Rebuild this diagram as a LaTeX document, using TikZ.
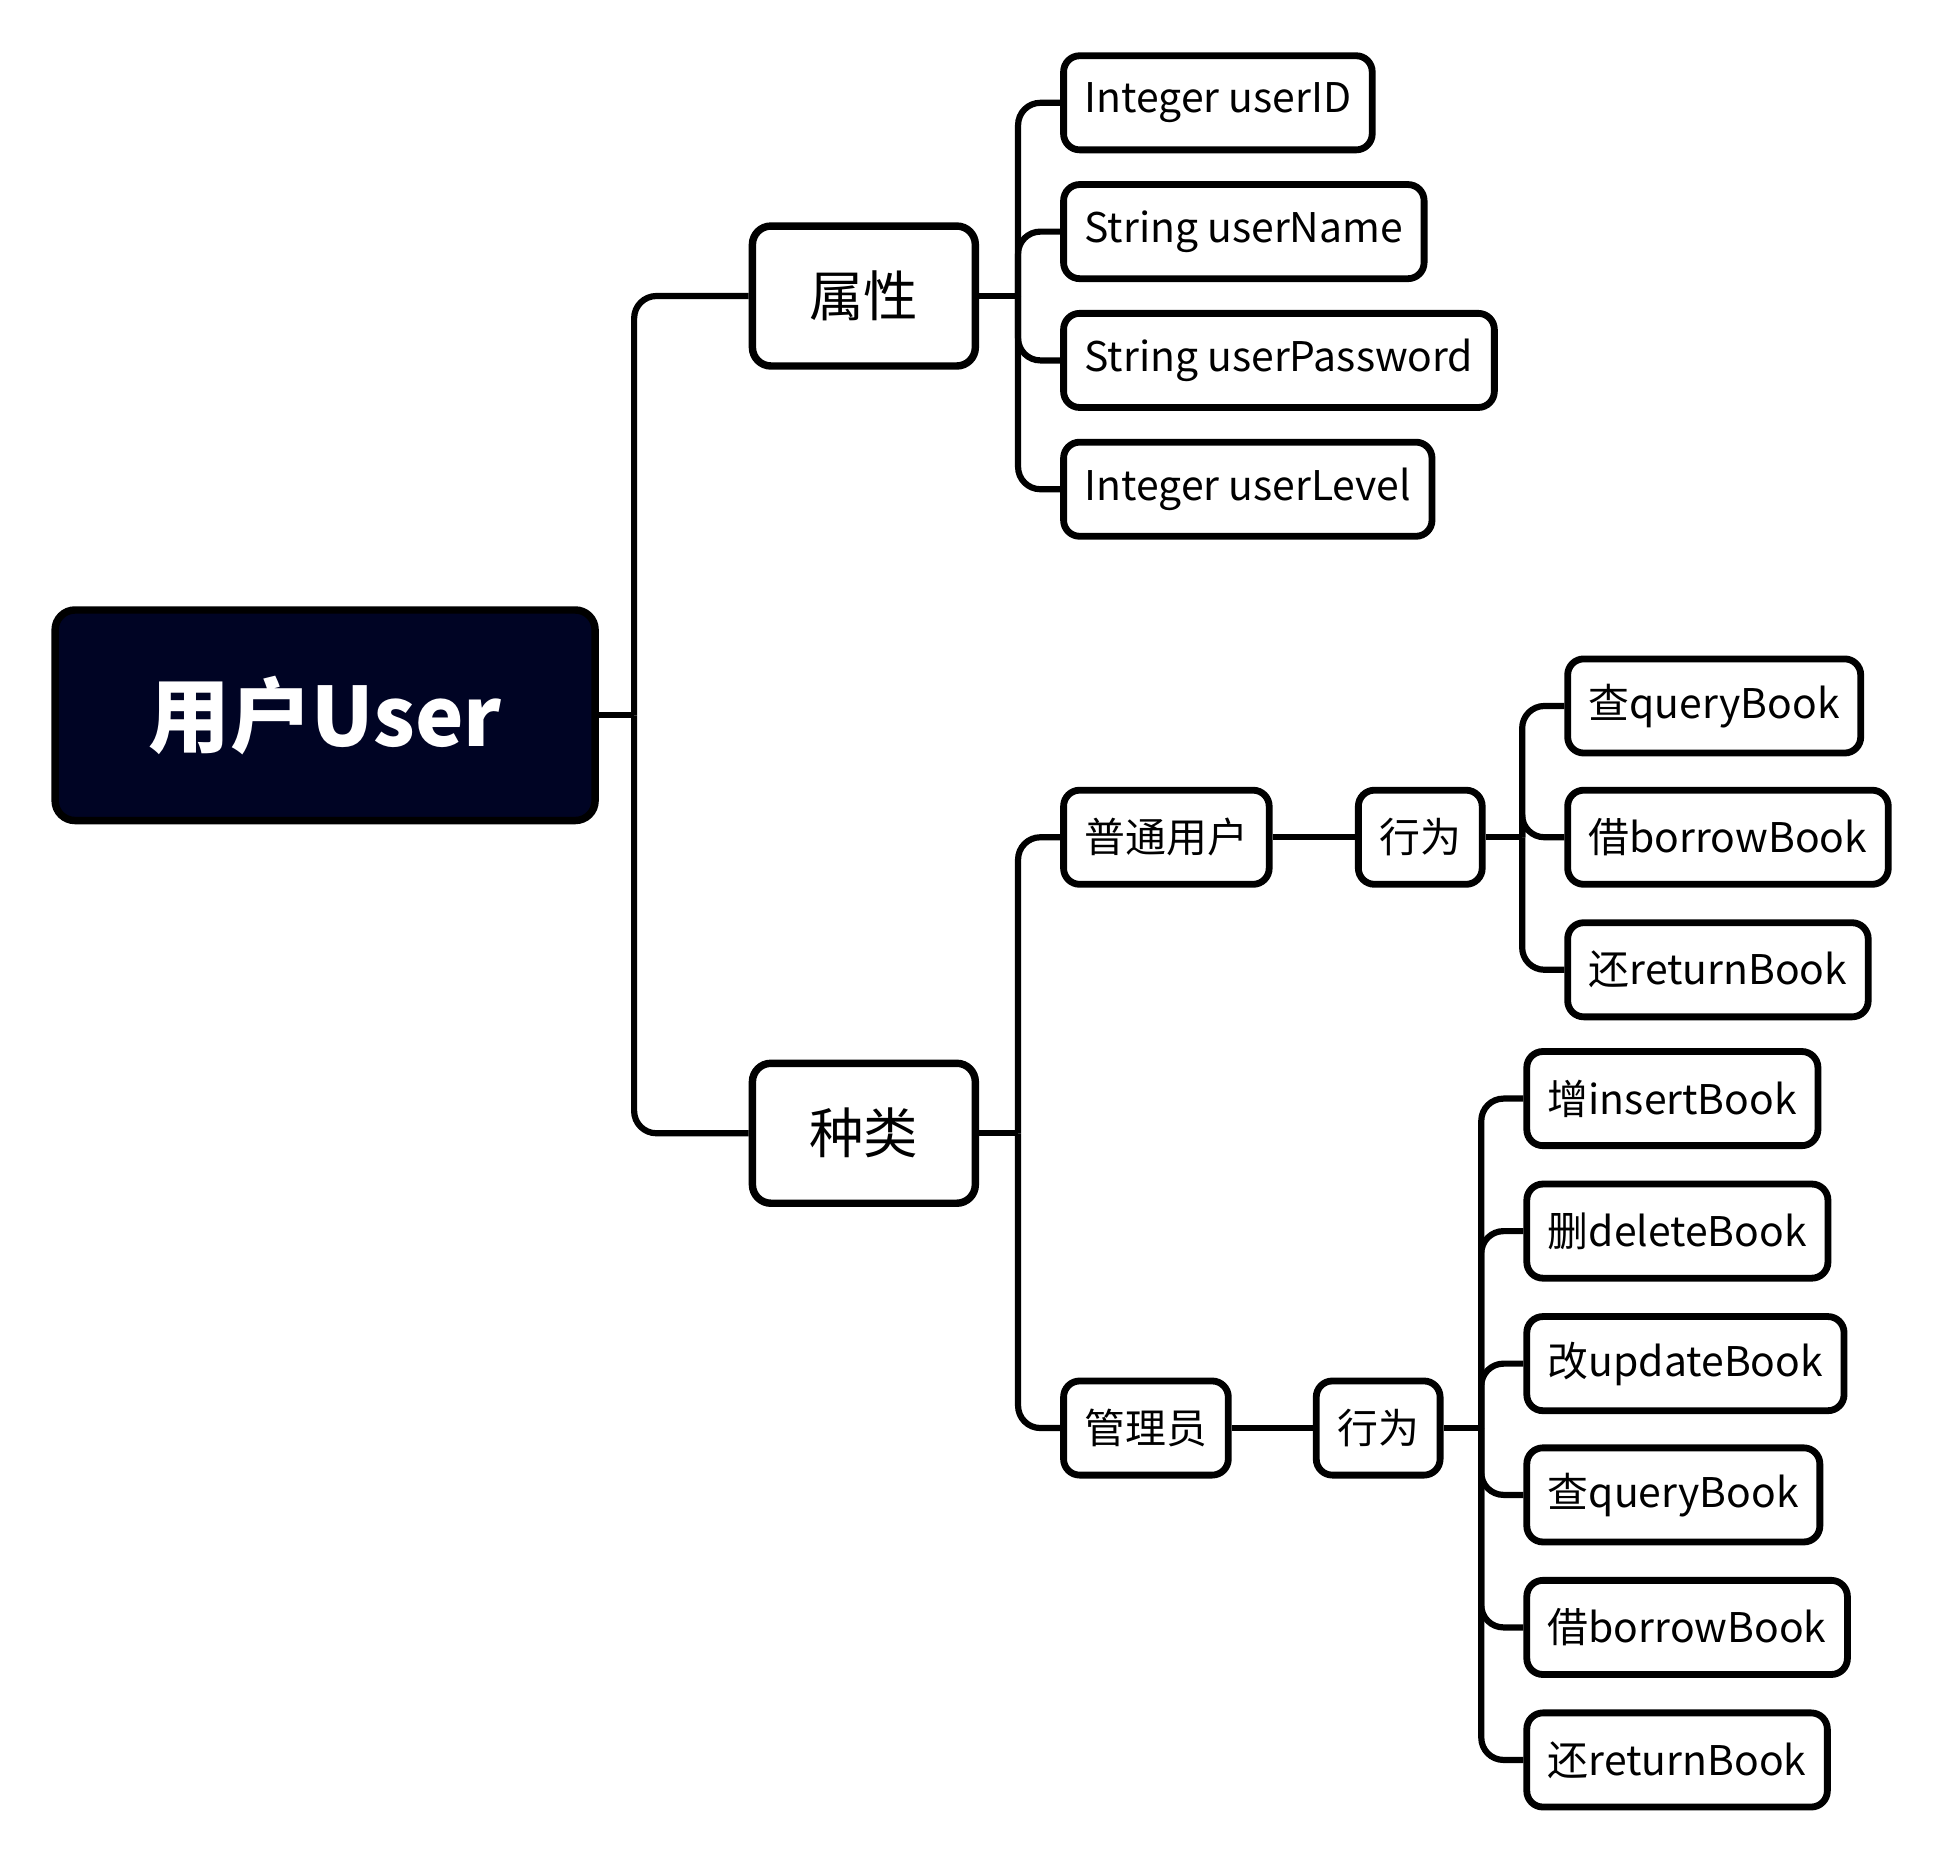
\documentclass[tikz,border=0pt]{standalone}
\usepackage{fontspec}
\setmainfont{Noto Sans CJK SC}
\usepackage{xcolor}
\usetikzlibrary{shapes}

\definecolor{rootfill}{RGB}{0,4,36}

\tikzset{
  rootbox/.style={draw=black, fill=rootfill, line width=6pt, rounded corners=16pt,
    minimum width=436pt, minimum height=170pt, text=white,
    font=\fontsize{66}{72}\selectfont\bfseries},
  midbox/.style={draw=black, fill=white, line width=6pt, rounded corners=15pt,
    minimum width=180pt, minimum height=113pt, font=\fontsize{44}{52}\selectfont},
  leaf/.style={draw=black, fill=white, line width=5.5pt, rounded corners=13pt,
    minimum height=76pt, inner xsep=17pt, anchor=west, font=\fontsize{33}{40}\selectfont},
  link/.style={line width=5pt, rounded corners=18pt},
}

\begin{document}
\begin{tikzpicture}[x=1pt,y=1pt,yscale=-1,xscale=1]
\useasboundingbox (0,0) rectangle (1568,1500);

%Root
\node[rootbox] (user) at (262.5,577.5) {用户User};

%First level
\node[midbox] (attr) at (697.5,239) {属性};
\node[midbox] (kind) at (697.5,915) {种类};

%Attributes
\node[leaf] (uid) at (856,83) {Integer userID};
\node[leaf] (uname) at (856,187) {String userName};
\node[leaf] (upwd) at (856,291) {String userPassword};
\node[leaf] (ulevel) at (856,395) {Integer userLevel};

%Kinds
\node[leaf] (normal) at (856,676) {普通用户};
\node[leaf] (admin) at (856,1153) {管理员};
\node[leaf] (act1) at (1094,676) {行为};
\node[leaf] (act2) at (1060,1153) {行为};

%Normal user actions
\node[leaf] (nquery) at (1263,570) {查queryBook};
\node[leaf] (nborrow) at (1263,676) {借borrowBook};
\node[leaf] (nreturn) at (1263,783) {还returnBook};

%Admin actions
\node[leaf] (ainsert) at (1230,887) {增insertBook};
\node[leaf] (adelete) at (1230,994) {删deleteBook};
\node[leaf] (aupdate) at (1230,1101) {改updateBook};
\node[leaf] (aquery) at (1230,1207) {查queryBook};
\node[leaf] (aborrow) at (1230,1314) {借borrowBook};
\node[leaf] (areturn) at (1230,1421) {还returnBook};

%Junctions
\coordinate (j0) at (512,577.5);
\coordinate (j1) at (822,239);
\coordinate (j2) at (822,915);
\coordinate (j3) at (1229,676);
\coordinate (j4) at (1196,1153);

%Connectors
\draw[link] (user.east) -- (j0);
\draw[link] (j0) |- (attr.west);
\draw[link] (j0) |- (kind.west);

\draw[link] (attr.east) -- (j1);
\draw[link] (j1) |- (uid.west);
\draw[link] (j1) |- (uname.west);
\draw[link] (j1) |- (upwd.west);
\draw[link] (j1) |- (ulevel.west);

\draw[link] (kind.east) -- (j2);
\draw[link] (j2) |- (normal.west);
\draw[link] (j2) |- (admin.west);

\draw[link] (normal.east) -- (act1.west);
\draw[link] (act1.east) -- (j3);
\draw[link] (j3) |- (nquery.west);
\draw[link] (j3) |- (nborrow.west);
\draw[link] (j3) |- (nreturn.west);

\draw[link] (admin.east) -- (act2.west);
\draw[link] (act2.east) -- (j4);
\draw[link] (j4) |- (ainsert.west);
\draw[link] (j4) |- (adelete.west);
\draw[link] (j4) |- (aupdate.west);
\draw[link] (j4) |- (aquery.west);
\draw[link] (j4) |- (aborrow.west);
\draw[link] (j4) |- (areturn.west);

\end{tikzpicture}
\end{document}
